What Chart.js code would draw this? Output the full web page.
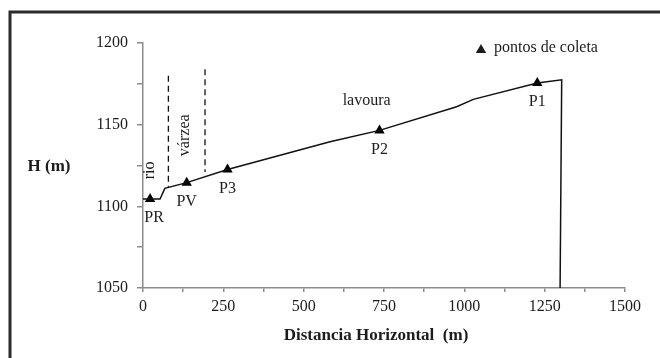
<!DOCTYPE html>
<html>
<head>
<meta charset="utf-8">
<script src="https://cdn.jsdelivr.net/npm/chart.js@4.4.0/dist/chart.umd.min.js"></script>
<style>
  body { margin: 0; background: #fff; }
  canvas { display: block; }
</style>
</head>
<body>
<canvas id="perfil" width="660" height="358"></canvas>
<script>
// perfil topografico - distancia horizontal x altitude

const profileX = [0, 53, 68, 136, 263, 582, 736, 976, 1028, 1227, 1303, 1298];
const profileH = [1104.5, 1104.5, 1111, 1114.5, 1122.5, 1139.5, 1146.5, 1161, 1165.5, 1175.5, 1177.5, 1050];

const sampleNames = ['PR', 'PV', 'P3', 'P2', 'P1'];
const sampleX = [22, 136, 263, 736, 1227];
const sampleH = [1104.5, 1114.5, 1122.5, 1146.5, 1175.5];

// limites rio / varzea (linhas tracejadas)
const riverLimitX = [79, 79];
const riverLimitH = [1180, 1112];
const floodLimitX = [193, 193];
const floodLimitH = [1184, 1121];

const zoneNames = ['lavoura', 'várzea', 'rio'];
const zoneX = [696, 131, 22];
const zoneH = [1164.5, 1143.5, 1122];
const zoneVertical = [false, true, true];

const xTicks = [0, 250, 500, 750, 1000, 1250, 1500];
const yTicks = [1050, 1100, 1150, 1200];

const legendText = 'pontos de coleta';
const xTitle = 'Distancia Horizontal  (m)';
const yTitle = 'H (m)';

const serif = '"Liberation Serif", "Times New Roman", serif';
const axisGray = '#8c8c8c';
const ink = '#1c1c1c';

function pairs(xs, ys) {
  return xs.map((x, i) => ({ x: x, y: ys[i] }));
}

function triangle(ctx, x, y, r) {
  ctx.beginPath();
  ctx.moveTo(x, y - r);
  ctx.lineTo(x + r * 0.866, y + r * 0.5);
  ctx.lineTo(x - r * 0.866, y + r * 0.5);
  ctx.closePath();
  ctx.fill();
}

const decor = {
  id: 'decor',
  beforeDraw(chart) {
    const ctx = chart.ctx;
    ctx.save();
    ctx.strokeStyle = '#2b2b2b';
    ctx.lineWidth = 3;
    ctx.strokeRect(10, 12, 700, 400);
    ctx.restore();
  },
  afterDatasetsDraw(chart) {
    const ctx = chart.ctx;
    const xs = chart.scales.x, ys = chart.scales.y;
    ctx.save();
    ctx.fillStyle = ink;
    ctx.textAlign = 'center';
    ctx.textBaseline = 'middle';
    ctx.font = '16px ' + serif;

    // nomes dos pontos
    sampleNames.forEach((n, i) => {
      const px = xs.getPixelForValue(sampleX[i]) + (i === 0 ? 4 : 0);
      const py = ys.getPixelForValue(sampleH[i]) + 19;
      ctx.fillText(n, px, py);
    });

    // zonas
    zoneNames.forEach((n, i) => {
      const px = xs.getPixelForValue(zoneX[i]);
      const py = ys.getPixelForValue(zoneH[i]);
      ctx.save();
      ctx.translate(px, py);
      if (zoneVertical[i]) ctx.rotate(-Math.PI / 2);
      ctx.fillText(n, 0, 0);
      ctx.restore();
    });

    // legenda
    triangle(ctx, 481, 50, 6);
    ctx.textAlign = 'left';
    ctx.fillText(legendText, 494, 48);

    // titulos dos eixos
    ctx.textAlign = 'center';
    ctx.font = 'bold 17px ' + serif;
    ctx.fillText(yTitle, 49, 167);
    ctx.fillText(xTitle, 376, 336);
    ctx.restore();
  }
};

new Chart(document.getElementById('perfil'), {
  type: 'scatter',
  data: {
    datasets: [
      {
        data: pairs(profileX, profileH),
        showLine: true,
        borderColor: '#111',
        borderWidth: 1.5,
        pointRadius: 0,
        tension: 0
      },
      {
        data: pairs(sampleX, sampleH),
        pointStyle: 'triangle',
        pointRadius: 6,
        backgroundColor: '#000',
        borderColor: '#000',
        borderWidth: 0
      },
      {
        data: pairs(riverLimitX, riverLimitH),
        showLine: true,
        borderColor: '#111',
        borderWidth: 1.3,
        borderDash: [6, 4],
        pointRadius: 0
      },
      {
        data: pairs(floodLimitX, floodLimitH),
        showLine: true,
        borderColor: '#111',
        borderWidth: 1.3,
        borderDash: [6, 4],
        pointRadius: 0
      }
    ]
  },
  options: {
    responsive: false,
    animation: false,
    devicePixelRatio: 1,
    layout: { padding: { top: 43, right: 35, left: 0, bottom: 0 } },
    plugins: {
      legend: { display: false },
      tooltip: { enabled: false }
    },
    scales: {
      x: {
        type: 'linear',
        min: 0,
        max: 1500,
        afterFit: s => { s.height = 70; },
        border: { color: axisGray, width: 1.5 },
        grid: { drawOnChartArea: false, tickLength: 4, color: axisGray, lineWidth: 1.5 },
        ticks: {
          stepSize: 125,
          autoSkip: false,
          maxRotation: 0,
          padding: 5,
          color: ink,
          font: { family: serif, size: 16 },
          callback: v => xTicks.includes(v) ? String(v) : ''
        }
      },
      y: {
        min: 1050,
        max: 1200,
        afterFit: s => { s.width = 143; },
        border: { color: axisGray, width: 1.5 },
        grid: { drawOnChartArea: false, tickLength: 6, color: axisGray, lineWidth: 1.5 },
        ticks: {
          stepSize: 25,
          autoSkip: false,
          padding: 9,
          color: ink,
          font: { family: serif, size: 16 },
          callback: v => yTicks.includes(v) ? String(v) : ''
        }
      }
    }
  },
  plugins: [decor]
});
</script>
</body>
</html>
